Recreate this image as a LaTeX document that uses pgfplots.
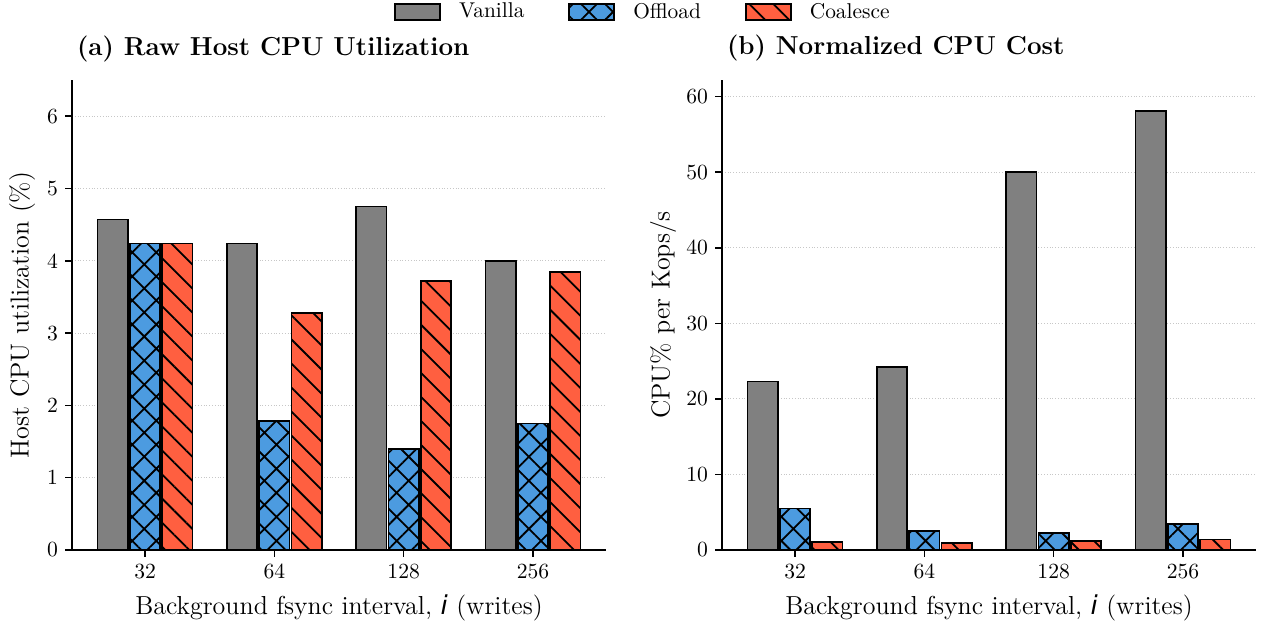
\documentclass[border=0pt]{standalone}
\usepackage{fontspec}
\usepackage{pgfplots}
\pgfplotsset{compat=1.18}
\usetikzlibrary{patterns.meta}
\newfontfamily\djs{DejaVu Sans}
\definecolor{cvan}{HTML}{808080}
\definecolor{coff}{HTML}{4C9BE0}
\definecolor{ccoa}{HTML}{FF5F40}

\pgfplotsset{
  mybase/.style={
    scale only axis, width=267pt, height=235pt,
    xmin=-0.565, xmax=3.565, ymin=0,
    axis lines*=left,
    axis line style={line width=0.8pt, black},
    xtick={0,1,2,3}, xticklabels={32,64,128,256},
    tick align=outside, major tick length=3.5pt,
    tick style={line width=0.8pt, black},
    ymajorgrids, grid style={densely dotted, black!22, line width=0.5pt},
    ticklabel style={font=\fontsize{10.8}{13}\selectfont},
    /pgf/number format/assume math mode=true,
    label style={font=\fontsize{13}{15.5}\selectfont},
    xlabel={Background fsync interval, {\djs\itshape i} (writes)},
    xlabel style={at={(axis description cs:0.5,-0.124)}, anchor=center},
    title style={font=\bfseries\fontsize{13}{15.5}\selectfont, at={(axis description cs:0,1)}, anchor=base west, yshift=6.5pt, xshift=-1pt},
  },
  van/.style={ybar, bar width=0.235, bar shift=-0.25, fill=cvan, draw=black, line width=0.9pt},
  off/.style={ybar, bar width=0.235, bar shift=0, fill=coff, draw=black, line width=0.9pt,
    postaction={pattern={Hatch[angle=45,distance=8.5pt,line width=0.9pt]}, pattern color=black}},
  coa/.style={ybar, bar width=0.235, bar shift=0.25, fill=ccoa, draw=black, line width=0.9pt,
    postaction={pattern={Lines[angle=-45,distance=8.5pt,line width=0.9pt]}, pattern color=black}},
}

\begin{document}
\begin{tikzpicture}
\useasboundingbox (0,0) rectangle (631pt,312.5pt);

\begin{axis}[mybase,
  at={(36pt,37.5pt)}, anchor=south west,
  ymax=6.5, ytick={0,1,2,3,4,5,6},
  ylabel={Host CPU utilization (\%)},
  ylabel style={at={(axis description cs:-0.0936,0.5)}, anchor=center},
  title={(a) Raw Host CPU Utilization},
  legend style={at={(axis description cs:1.071,1.1447)}, anchor=center, draw=none, fill=none,
    legend columns=3, font=\fontsize{10.7}{13}\selectfont,
    /tikz/every odd column/.append style={column sep=7pt},
    /tikz/every even column/.append style={column sep=20pt}},
  legend image code/.code={\draw[#1] (0pt,-4pt) rectangle (22.5pt,4pt);},
]
\addplot[van] coordinates {(0,4.57) (1,4.24) (2,4.75) (3,4.00)};
\addlegendentry{Vanilla}
\addplot[off] coordinates {(0,4.24) (1,1.78) (2,1.40) (3,1.75)};
\addlegendentry{Offload}
\addplot[coa] coordinates {(0,4.24) (1,3.28) (2,3.72) (3,3.85)};
\addlegendentry{Coalesce}
\end{axis}

\begin{axis}[mybase,
  at={(361pt,37.5pt)}, anchor=south west,
  ymax=62.2, ytick={0,10,20,30,40,50,60},
  ylabel={CPU\% per Kops/s},
  ylabel style={at={(axis description cs:-0.1105,0.5)}, anchor=center},
  title={(b) Normalized CPU Cost},
]
\addplot[van] coordinates {(0,22.3) (1,24.2) (2,50.0) (3,58.1)};
\addplot[off] coordinates {(0,5.5) (1,2.5) (2,2.3) (3,3.45)};
\addplot[coa] coordinates {(0,1.1) (1,0.95) (2,1.15) (3,1.38)};
\end{axis}
\end{tikzpicture}
\end{document}
